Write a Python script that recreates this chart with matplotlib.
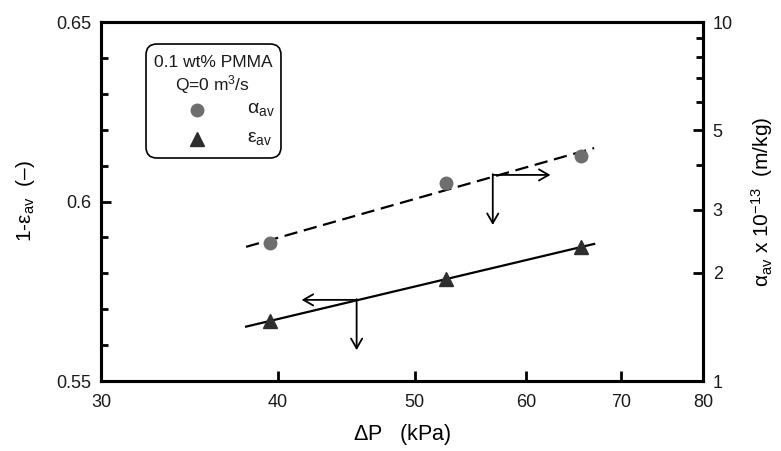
import numpy as np
import matplotlib.pyplot as plt
from matplotlib.patches import FancyBboxPatch

plt.rcParams['font.family'] = ['Liberation Sans', 'DejaVu Sans']
plt.rcParams['mathtext.fontset'] = 'custom'
plt.rcParams['mathtext.rm'] = 'Liberation Sans'
plt.rcParams['mathtext.it'] = 'Liberation Sans'
plt.rcParams['text.color'] = '#1a1a1a'

# data
dp = [39.5, 52.6, 65.6]               # kPa
eps_solid = [0.5667, 0.5784, 0.5873]  # 1 - eps_av (left axis)
alpha_av = [2.42, 3.56, 4.24]         # x 1e-13 m/kg (right axis)
fit_range = [38.0, 67.0]

# straight-line fits on the plotting scales
x = np.log(dp)
p_eps = np.polyfit(x, eps_solid, 1)
p_alp = np.polyfit(x, np.log10(alpha_av), 1)
xf = np.array(fit_range)

fig = plt.figure(figsize=(7.81, 4.51), dpi=100)
ax = fig.add_axes([0.1293, 0.1552, 0.7708, 0.796])
ax2 = ax.twinx()

ax.set_xscale('log')
ax.set_xlim(30, 80)
ax.set_ylim(0.55, 0.65)
ax2.set_yscale('log')
ax2.set_ylim(1, 10)

ax.plot(xf, np.polyval(p_eps, np.log(xf)), color='black', lw=1.6)
ax.plot(dp, eps_solid, '^', color='#2e2e2e', ms=10, zorder=5)
ax2.plot(xf, 10 ** np.polyval(p_alp, np.log(xf)), color='black', lw=1.6,
         ls=(0, (6, 3)))
ax2.plot(dp, alpha_av, 'o', color='#6e6e6e', ms=9, zorder=5)

# pointer arrows
akw = dict(arrowstyle='->,head_length=0.7,head_width=0.4', color='black',
           lw=1.3, shrinkA=0, shrinkB=0)
ax2.annotate('', xy=(62.4, 3.75), xytext=(56.8, 3.75), arrowprops=akw)
ax2.annotate('', xy=(56.8, 2.72), xytext=(56.8, 3.77), arrowprops=akw)
ax.annotate('', xy=(41.6, 0.5726), xytext=(45.5, 0.5726), arrowprops=akw)
ax.annotate('', xy=(45.5, 0.5586), xytext=(45.5, 0.5728), arrowprops=akw)

# ticks
ax.set_xticks([30, 40, 50, 60, 70, 80])
ax.set_xticklabels(['30', '40', '50', '60', '70', '80'])
ax.xaxis.set_minor_locator(plt.NullLocator())
ax.set_yticks([0.55, 0.6, 0.65])
ax.set_yticklabels(['0.55', '0.6', '0.65'])
ax.set_yticks(np.arange(0.55, 0.651, 0.01), minor=True)
ax2.set_yticks([1, 2, 3, 5, 10])
ax2.set_yticklabels(['1', '2', '3', '5', '10'])
ax2.set_yticks([4, 6, 7, 8, 9], minor=True)
ax2.yaxis.set_minor_formatter(plt.NullFormatter())

for a in (ax, ax2):
    a.tick_params(which='both', direction='in', width=2, labelsize=13, pad=7,
                  labelcolor='#1a1a1a')
    a.tick_params(which='major', length=7)
    a.tick_params(which='minor', length=5)
    for s in a.spines.values():
        s.set_linewidth(2.2)
ax.tick_params(axis='x', pad=9)
ax.tick_params(axis='y', which='both', right=False)

ax.set_xlabel(r'$\Delta$P   (kPa)', fontsize=15.5, labelpad=8)
ax.set_ylabel(r'1-$\mathregular{ε_{av}}$  (–)', fontsize=15, labelpad=14)
ax2.set_ylabel(r'$\mathregular{α_{av}}$ x 10$^{-13}$  (m/kg)', fontsize=15,
               labelpad=12)

# hand-built legend box
box = FancyBboxPatch((0.0748, 0.6212), 0.2242, 0.3175,
                     boxstyle='round,pad=0,rounding_size=0.018',
                     mutation_aspect=1.68, transform=ax.transAxes,
                     facecolor='white', edgecolor='black', lw=1.2, zorder=6)
ax.add_patch(box)
ax.text(0.186, 0.886, '0.1 wt% PMMA', transform=ax.transAxes, ha='center',
        va='center', fontsize=12.5, zorder=7)
ax.text(0.186, 0.8245, 'Q=0 m$^3$/s', transform=ax.transAxes, ha='center',
        va='center', fontsize=12.5, zorder=7)
ax.plot([0.1595], [0.755], 'o', color='#6e6e6e', ms=9, transform=ax.transAxes,
        zorder=7, clip_on=False)
ax.plot([0.1595], [0.674], '^', color='#2e2e2e', ms=10, transform=ax.transAxes,
        zorder=7, clip_on=False)
ax.text(0.243, 0.757, r'$\mathregular{α_{av}}$', transform=ax.transAxes,
        ha='left', va='center', fontsize=14, zorder=7)
ax.text(0.243, 0.676, r'$\mathregular{ε_{av}}$', transform=ax.transAxes,
        ha='left', va='center', fontsize=14, zorder=7)

fig.savefig('out.png', dpi=100)
